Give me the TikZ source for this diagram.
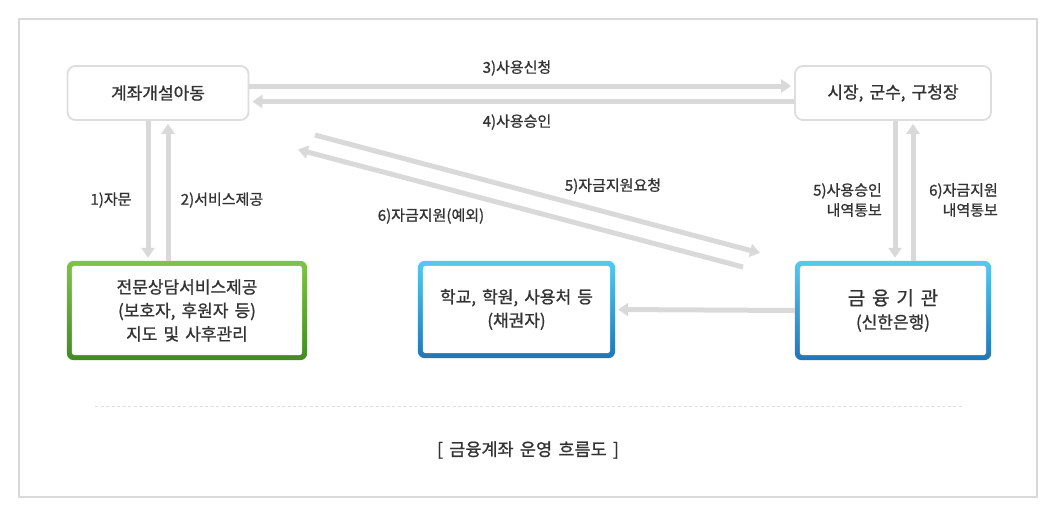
\documentclass[tikz,border=0pt]{standalone}
\usepackage{fontspec}
\setmainfont{Noto Sans CJK KR}[FakeBold=1.0, WordSpace=1.6]
\usetikzlibrary{arrows.meta,backgrounds,calc}
\definecolor{txt}{HTML}{333333}
\definecolor{arr}{HTML}{D9D9D9}
\definecolor{boxgray}{HTML}{DDDDDD}
\definecolor{framegray}{HTML}{D9D9D9}
\definecolor{gtop}{HTML}{7FC443}
\definecolor{gbot}{HTML}{3F8C22}
\definecolor{btop}{HTML}{52CBF2}
\definecolor{bbot}{HTML}{1E76B9}
\begin{document}
\begin{tikzpicture}[x=1pt,y=-1pt,
  every node/.style={text=txt, align=center, inner sep=0pt},
  boxtext/.style={font=\fontsize{17}{23.5}\selectfont},
  graybox/.style={boxtext, draw=boxgray, line width=1.8pt, rounded corners=8pt, fill=white, minimum height=54pt},
  colbox/.style={boxtext, minimum height=99pt},
  lbl/.style={font=\fontsize{15}{20}\selectfont},
  flow/.style={draw=arr, line width=5pt, -{Triangle[length=10pt,width=13pt]}, shorten >=3pt}]
\useasboundingbox (0,0) rectangle (1051,507);
\draw[framegray, line width=1.3pt] (19,19) rectangle (1037,497);

% nodes
\node[graybox, minimum width=181pt] (A) at (158,93) {계좌개설아동};
\node[graybox, minimum width=196pt] (B) at (893,93) {시장, 군수, 구청장};
\node[colbox, minimum width=240pt] (C) at (187,310.5) {전문상담서비스제공\\(보호자, 후원자 등)\\지도 및 사후관리};
\node[colbox, minimum width=197pt, minimum height=97pt] (D) at (516.5,309.5) {학교, 학원, 사용처 등\\(채권자)};
\node[colbox, minimum width=196pt] (E) at (893,310.5) {{\fontsize{19}{26}\selectfont 금 융 기 관}\\(신한은행)};

\begin{scope}[on background layer]
  \fill[white] (0,0) rectangle (1051,507);
  \foreach \n/\ct/\cb in {C/gtop/gbot, D/btop/bbot, E/btop/bbot}{
    \shade[top color=\ct, bottom color=\cb, rounded corners=7pt] (\n.north west) rectangle (\n.south east);
    \fill[white, rounded corners=3pt] ([shift={(5pt,-5pt)}]\n.north west) rectangle ([shift={(-5pt,5pt)}]\n.south east);
  }
\end{scope}

% horizontal arrows top
\draw[flow] ([yshift=7pt]A.east) -- ([yshift=7pt]B.west);
\draw[flow] ([yshift=-8.5pt]B.west) -- ([yshift=-8.5pt]A.east);
\node[lbl] (l3) at (517,68) {3)사용신청};
\node[lbl] (l4) at (517,122) {4)사용승인};

% left vertical
\draw[flow] ([xshift=-10pt]A.south) -- ([xshift=-10pt]A.south |- C.north);
\draw[flow] ([xshift=10pt]A.south |- C.north) -- ([xshift=10pt]A.south);
\node[lbl] (l1) at (111,200) {1)자문};
\node[lbl] (l2) at (222,200) {2)서비스제공};

% right vertical
\draw[flow] ([xshift=2pt]B.south) -- ([xshift=2pt]B.south |- E.north);
\draw[flow] ([xshift=20pt]B.south |- E.north) -- ([xshift=20pt]B.south);
\node[lbl, anchor=east, align=right] (l5b) at (882,200) {5)사용승인\\내역통보};
\node[lbl, anchor=east, align=right] (l6b) at (998,200) {6)자금지원\\내역통보};

% diagonal arrows
\coordinate (d1s) at (315,135);
\coordinate (d1e) at (760,253);
\coordinate (d2s) at (743,267);
\coordinate (d2e) at (298,149.5);
\draw[flow, shorten >=0pt] (d1s) -- (d1e);
\draw[flow, shorten >=0pt] (d2s) -- (d2e);
\node[lbl] (l5) at (613,186) {5)자금지원요청};
\node[lbl] (l6) at (431,216) {6)자금지원(예외)};

% bottom horizontal arrow
\draw[flow] (E.west) -- (D.east);

% dashed separator and caption
\draw[boxgray, line width=1pt, dash pattern=on 3pt off 2.5pt] (95,406) -- (962,406);
\node[boxtext, font=\fontsize{17.5}{23}\selectfont] (cap) at (528,450) {[ 금융계좌 운영 흐름도 ]};
\end{tikzpicture}
\end{document}
